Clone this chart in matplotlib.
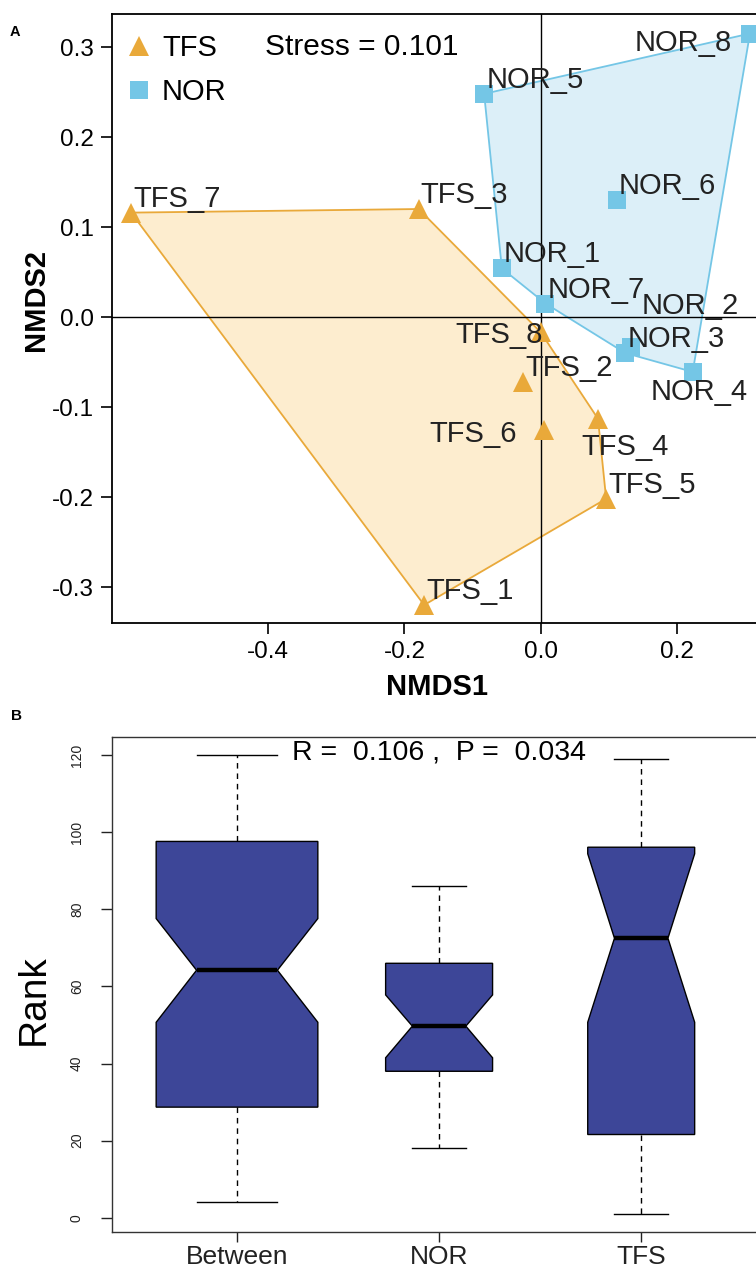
import numpy as np
import matplotlib
matplotlib.use("Agg")
import matplotlib.pyplot as plt
from matplotlib.patches import Polygon
from matplotlib.lines import Line2D
from matplotlib.ticker import FormatStrFormatter
import matplotlib.transforms as mtransforms

plt.rcParams['font.family'] = ['Liberation Sans', 'DejaVu Sans']
plt.rcParams['axes.unicode_minus'] = False

# ---------------- NMDS data ----------------
tfs_names = ['TFS_1', 'TFS_2', 'TFS_3', 'TFS_4', 'TFS_5', 'TFS_6', 'TFS_7', 'TFS_8']
tfs_x = [-0.171, -0.026, -0.179, 0.084, 0.096, 0.005, -0.601, 0.000]
tfs_y = [-0.320, -0.072, 0.120, -0.113, -0.202, -0.126, 0.116, -0.017]

nor_names = ['NOR_1', 'NOR_2', 'NOR_3', 'NOR_4', 'NOR_5', 'NOR_6', 'NOR_7', 'NOR_8']
nor_x = [-0.057, 0.132, 0.124, 0.223, -0.083, 0.112, 0.007, 0.307]
nor_y = [0.054, -0.033, -0.040, -0.061, 0.248, 0.130, 0.015, 0.315]

stress = 0.101

# ---------------- ANOSIM data ----------------
groups = ['Between', 'NOR', 'TFS']
n_pairs = [64, 28, 28]
box_med = [64.2, 49.7, 72.5]
box_q1 = [28.7, 38.0, 21.6]
box_q3 = [97.6, 66.0, 96.1]
whisk_lo = [4, 18, 1]
whisk_hi = [120, 86, 119]
notch_lo = [50.7, 41.5, 50.7]
notch_hi = [77.6, 57.8, 94.4]
anosim_R = 0.106
anosim_P = 0.034

# ---------------- styles ----------------
c_tfs = '#E9A93A'
c_tfs_fill = '#FDEDCF'
c_nor = '#74C6E6'
c_nor_fill = '#DCEFF8'
c_box = '#3D4698'

# label placement (ha, va, dx px, dy px)
label_style = {
    'NOR_8': ('right', 'top', -18, 5),
    'NOR_2': ('left', 'bottom', 11, 27),
    'NOR_4': ('center', 'top', 6, -6),
    'TFS_8': ('right', 'center', 2, -3),
    'TFS_6': ('right', 'center', -27, -4),
    'TFS_4': ('center', 'top', 27, -14),
}
default_label = ('left', 'bottom', 2, 0)

W, H = 756, 1265
DPI = 100
fig = plt.figure(figsize=(W / DPI, H / DPI), dpi=DPI)
PX = 72.0 / DPI


def ax_rect(left, top, right, bottom):
    return [left / W, 1 - bottom / H, (right - left) / W, (bottom - top) / H]


def hull(xs, ys):
    pts = sorted(set(zip(xs, ys)))
    def cross(o, a, b):
        return (a[0] - o[0]) * (b[1] - o[1]) - (a[1] - o[1]) * (b[0] - o[0])
    lower, upper = [], []
    for p in pts:
        while len(lower) >= 2 and cross(lower[-2], lower[-1], p) <= 0:
            lower.pop()
        lower.append(p)
    for p in reversed(pts):
        while len(upper) >= 2 and cross(upper[-2], upper[-1], p) <= 0:
            upper.pop()
        upper.append(p)
    return lower[:-1] + upper[:-1]


# ================= Panel A =================
ax = fig.add_axes(ax_rect(112, 14, 774.5, 623))
ax.set_xlim(-0.629, 0.343)
ax.set_ylim(-0.340, 0.3367)

ax.add_patch(Polygon(hull(tfs_x, tfs_y), closed=True, facecolor=c_tfs_fill,
                     edgecolor=c_tfs, lw=1.3, zorder=1))
ax.add_patch(Polygon(hull(nor_x, nor_y), closed=True, facecolor=c_nor_fill,
                     edgecolor=c_nor, lw=1.3, zorder=1))
ax.axhline(0, color='black', lw=1.0, zorder=2)
ax.axvline(0, color='black', lw=1.0, zorder=2)

ax.plot(tfs_x, tfs_y, linestyle='none', marker='^', ms=14, color=c_tfs,
        markeredgewidth=0, zorder=3)
ax.plot(nor_x, nor_y, linestyle='none', marker='s', ms=13, color=c_nor,
        markeredgewidth=0, zorder=3)

for names, xs, ys in ((tfs_names, tfs_x, tfs_y), (nor_names, nor_x, nor_y)):
    for nm, x, y in zip(names, xs, ys):
        ha, va, dx, dy = label_style.get(nm, default_label)
        ax.annotate(nm, (x, y), xytext=(dx * PX, dy * PX), textcoords='offset points',
                    ha=ha, va=va, fontsize=21, color='#222222', zorder=4,
                    annotation_clip=False)

ax.set_xticks([-0.4, -0.2, 0.0, 0.2])
ax.set_yticks([-0.3, -0.2, -0.1, 0.0, 0.1, 0.2, 0.3])
ax.xaxis.set_major_formatter(FormatStrFormatter('%.1f'))
ax.yaxis.set_major_formatter(FormatStrFormatter('%.1f'))
ax.tick_params(direction='out', length=8, width=1.2, labelsize=17.5, pad=5,
               colors='black')
for s in ax.spines.values():
    s.set_linewidth(1.3)

ax.set_xlabel('NMDS1', fontsize=21, fontweight='bold')
ax.set_ylabel('NMDS2', fontsize=21, fontweight='bold')
ax.xaxis.set_label_coords((437 - 112) / 662.5, (623 - 673) / 609)
ax.yaxis.set_label_coords((50 - 112) / 662.5, (623 - 300) / 609)

handles = [Line2D([], [], linestyle='none', marker='^', ms=14, color=c_tfs, markeredgewidth=0),
           Line2D([], [], linestyle='none', marker='s', ms=13, color=c_nor, markeredgewidth=0)]
ax.legend(handles, ['TFS', 'NOR'], loc='upper left',
          bbox_to_anchor=((124 - 112) / 662.5, (623 - 34) / 609),
          frameon=False, fontsize=21, handlelength=1.0, handletextpad=0.3,
          borderpad=0, borderaxespad=0, labelspacing=0.55)
ax.text((265 - 112) / 662.5, (623 - 47) / 609, 'Stress = %.3f' % stress,
        transform=ax.transAxes, ha='left', va='center', fontsize=21.5)

fig.text(15 / W, 1 - 32 / H, 'A', fontsize=10.5, fontweight='bold', ha='center', va='center')

# ================= Panel B =================
bx = fig.add_axes(ax_rect(111.7, 736.7, 766.5, 1232.3))
widths = [0.8 * np.sqrt(n / max(n_pairs)) for n in n_pairs]
capw = [w / 2 for w in widths]
stats = []
for i, g in enumerate(groups):
    stats.append(dict(label=g, med=box_med[i], q1=box_q1[i], q3=box_q3[i],
                      whislo=whisk_lo[i], whishi=whisk_hi[i],
                      cilo=notch_lo[i], cihi=notch_hi[i], fliers=[]))
bx.bxp(stats, positions=[1, 2, 3], widths=widths, capwidths=capw,
       shownotches=True, patch_artist=True, showfliers=False,
       boxprops=dict(facecolor=c_box, edgecolor='black', lw=1.0),
       medianprops=dict(color='black', lw=3.2, solid_capstyle='butt'),
       whiskerprops=dict(color='black', lw=1.0, linestyle=(0, (4, 3.5))),
       capprops=dict(color='black', lw=1.0))
bx.set_xlim(0.38, 3.62)
bx.set_ylim(-3.76, 124.76)
bx.set_xticks([1, 2, 3])
bx.set_xticklabels(groups, fontsize=19)
bx.set_yticks([0, 20, 40, 60, 80, 100, 120])
bx.set_yticklabels(['0', '20', '40', '60', '80', '100', '120'], fontsize=10,
                   rotation=90, va='center')
bx.tick_params(axis='y', direction='out', length=8, width=1.0, pad=12, colors='#222222')
bx.tick_params(axis='x', direction='out', length=7, width=1.0, pad=2, colors='#222222')
for s in bx.spines.values():
    s.set_linewidth(1.0)
    s.set_color('#333333')
bx.set_ylabel('Rank', fontsize=28)
bx.yaxis.set_label_coords((52 - 111.7) / 654.8, (1232.3 - 1000) / 495.6)

trans = mtransforms.blended_transform_factory(bx.transData, bx.transAxes)
bx.text(2, (1232.3 - 752) / 495.6,
        'R =  %.3f ,  P =  %.3f' % (anosim_R, anosim_P),
        transform=trans, ha='center', va='center', fontsize=20.5)

fig.text(17 / W, 1 - 716 / H, 'B', fontsize=11, fontweight='bold', ha='center', va='center')

fig.savefig('out.png', dpi=DPI)
